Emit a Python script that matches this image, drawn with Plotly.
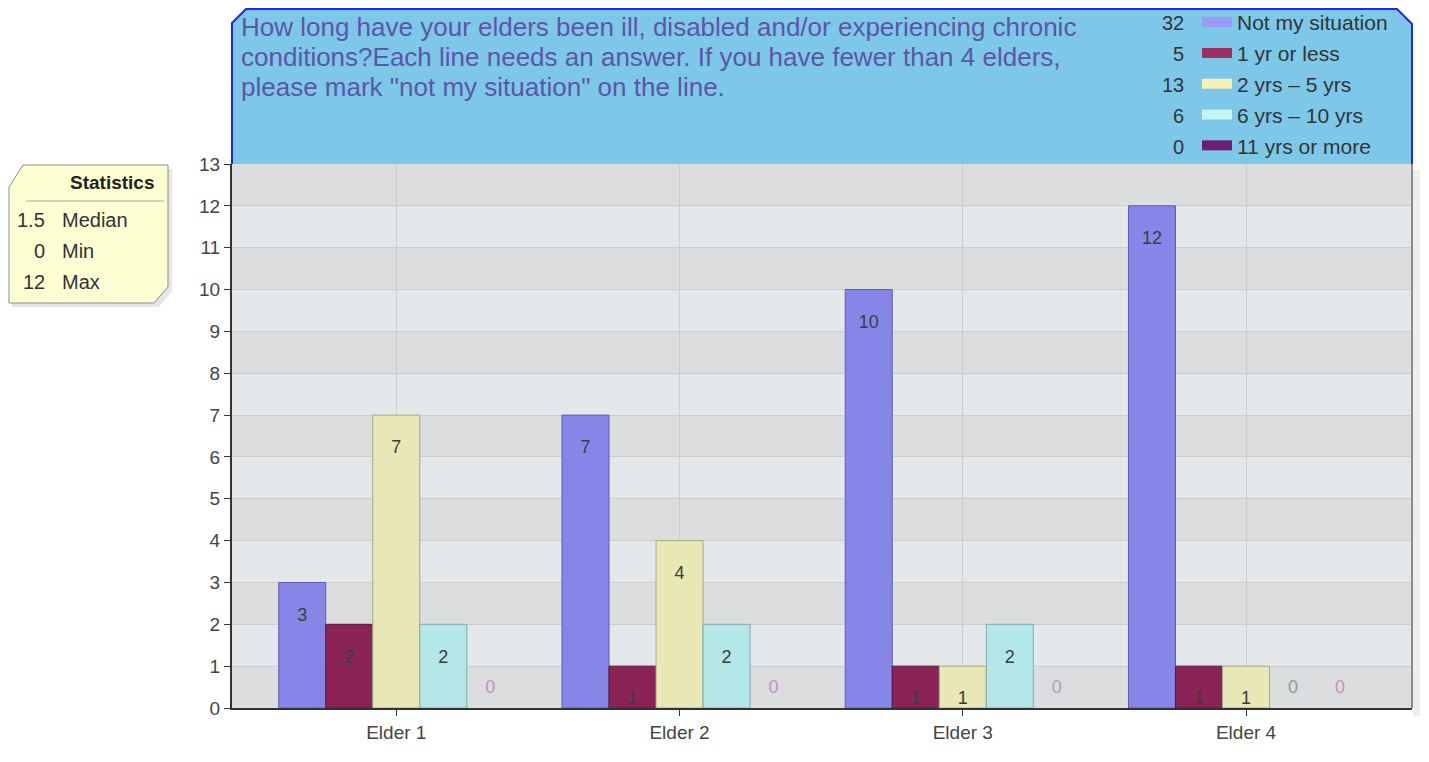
import plotly.graph_objects as go
import numpy as np

categories = ["Elder 1", "Elder 2", "Elder 3", "Elder 4"]
series_names = ["Not my situation", "1 yr or less", "2 yrs \u2013 5 yrs", "6 yrs \u2013 10 yrs", "11 yrs or more"]
not_my_situation = [3, 7, 10, 12]
one_yr_or_less = [2, 1, 1, 1]
two_to_five = [7, 4, 1, 1]
six_to_ten = [2, 2, 2, 0]
eleven_plus = [0, 0, 0, 0]
series_values = [not_my_situation, one_yr_or_less, two_to_five, six_to_ten, eleven_plus]
y_ticks = list(range(0, 14))

title_lines = [
    "How long have your elders been ill, disabled and/or experiencing chronic",
    "conditions?Each line needs an answer. If you have fewer than 4 elders,",
    "please mark \"not my situation\" on the line.",
]

bar_colors = ["#8686e8", "#8a2456", "#e8e8b6", "#b4e8e8", "#6a1a6a"]
bar_lines = ["#5e5eb0", "#5a1638", "#a8a884", "#80aaaa", "#4a104a"]
legend_colors = ["#9a9af4", "#9a3060", "#f4f0b8", "#c4f4f4", "#701c70"]
zero_colors = ["#8a8ac8", "#b06080", "#a8a878", "#7fa0a0", "#c490c4"]

# page body has an 8px margin: the figure occupies window x 8..1421, y 8..754
FW, FH = 1413, 746
L, R, T, B = 224, 9, 156, 46
PL, PR, PT, PB = 232, 1412, 164, 708  # plot area in window pixels


def px(x):
    return (x - PL) / (PR - PL)


def py(y):
    return (PB - y) / (PB - PT)


FONT = "Liberation Sans, Arial, sans-serif"

fig = go.Figure()

for i, (name, vals) in enumerate(zip(series_names, series_values)):
    fig.add_trace(go.Bar(
        x=categories, y=vals, name=name, offsetgroup=str(i),
        marker=dict(color=bar_colors[i],
                    line=dict(color=bar_lines[i], width=[1 if v > 0 else 0 for v in vals])),
        hoverinfo="skip", showlegend=False,
    ))

for i, (name, vals) in enumerate(zip(series_names, series_values)):
    fig.add_trace(go.Scatter(
        x=categories, y=vals, offsetgroup=str(i), mode="markers+text",
        text=[str(v) for v in vals],
        textposition=["bottom center" if v > 0 else "top center" for v in vals],
        textfont=dict(family=FONT, size=18,
                      color=["#3c3c3c" if v > 0 else zero_colors[i] for v in vals]),
        marker=dict(size=[38 if v > 0 else 16 for v in vals], opacity=0),
        showlegend=False, hoverinfo="skip", cliponaxis=False,
    ))

# legend entries (capsule-like thick line symbols)
for i, name in enumerate(series_names):
    fig.add_trace(go.Scatter(
        x=[None], y=[None], mode="lines", name=name, legendgroup=str(i),
        line=dict(color=legend_colors[i], width=10), showlegend=True, hoverinfo="skip",
    ))

shapes = []
# plot shadow
shapes.append(dict(type="rect", xref="paper", yref="paper", x0=px(1413), x1=px(1420), y0=py(716), y1=py(170),
                   fillcolor="#eeeeee", line=dict(width=0), layer="below"))
# alternating bands
for k in y_ticks[:-1]:
    if k % 2 == 0:
        shapes.append(dict(type="rect", xref="paper", yref="y", x0=0, x1=1, y0=k, y1=k + 1,
                           fillcolor="#dcdddf", line=dict(width=0), layer="below"))
# right border of plot
shapes.append(dict(type="line", xref="paper", yref="paper", x0=1, x1=1, y0=0, y1=1,
                   line=dict(color="#8c8c8c", width=2)))
# title box
pts = [(232, 164), (232, 23), (246, 9), (1397, 9), (1412, 24), (1412, 164)]
box_path = "M " + " L ".join(f"{px(x)},{py(y)}" for x, y in pts)
shapes.append(dict(type="path", xref="paper", yref="paper", path=box_path + " Z",
                   fillcolor="#7dc8e9", line=dict(width=0)))
shapes.append(dict(type="path", xref="paper", yref="paper", path=box_path,
                   fillcolor="rgba(0,0,0,0)", line=dict(color="#2424f0", width=2)))
# statistics box shadow + box
sh = [(12, 191), (27, 169), (172, 169), (172, 291), (159, 307), (12, 307)]
shapes.append(dict(type="path", xref="paper", yref="paper",
                   path="M " + " L ".join(f"{px(x)},{py(y)}" for x, y in sh) + " Z",
                   fillcolor="#e6e6e6", line=dict(width=0)))
sb = [(9, 187), (23, 165), (168, 165), (168, 287), (154, 303), (9, 303)]
shapes.append(dict(type="path", xref="paper", yref="paper",
                   path="M " + " L ".join(f"{px(x)},{py(y)}" for x, y in sb) + " Z",
                   fillcolor="#ffffd4", line=dict(color="#8c8c8c", width=1)))
shapes.append(dict(type="line", xref="paper", yref="paper", x0=px(26), x1=px(164), y0=py(201), y1=py(201),
                   line=dict(color="#a8a890", width=1)))

annotations = []
for j, line in enumerate(title_lines):
    annotations.append(dict(xref="paper", yref="paper", x=px(239), y=py(27 + 30 * j), xanchor="left",
                            yanchor="middle", text=line, showarrow=False,
                            font=dict(family=FONT, size=26, color="#5b56a8")))

totals = [int(np.sum(v)) for v in series_values]
for i, tot in enumerate(totals):
    annotations.append(dict(xref="paper", yref="paper", x=px(1186), y=py(23 + 31 * i), xanchor="right",
                            yanchor="middle", text=str(tot), showarrow=False,
                            font=dict(family=FONT, size=20, color="#333333")))

all_vals = np.array(series_values).flatten()
stats = [("%g" % np.median(all_vals), "Median"), ("%g" % np.min(all_vals), "Min"), ("%g" % np.max(all_vals), "Max")]
annotations.append(dict(xref="paper", yref="paper", x=px(156), y=py(182), xanchor="right", yanchor="middle",
                        text="<b>Statistics</b>", showarrow=False,
                        font=dict(family=FONT, size=19, color="#222222")))
for j, (v, lab) in enumerate(stats):
    annotations.append(dict(xref="paper", yref="paper", x=px(47), y=py(220 + 31 * j), xanchor="right",
                            yanchor="middle", text=v, showarrow=False,
                            font=dict(family=FONT, size=20, color="#333333")))
    annotations.append(dict(xref="paper", yref="paper", x=px(60), y=py(220 + 31 * j), xanchor="left",
                            yanchor="middle", text=lab, showarrow=False,
                            font=dict(family=FONT, size=20, color="#333333")))

fig.update_layout(
    width=FW, height=FH,
    margin=dict(l=L, r=R, t=T, b=B, autoexpand=False),
    paper_bgcolor="#ffffff", plot_bgcolor="#e4e8eb",
    barmode="group", bargap=0.17, bargroupgap=0,
    scattermode="group", scattergap=0.17,
    font=dict(family=FONT, size=19, color="#333333"),
    shapes=shapes, annotations=annotations,
    legend=dict(x=px(1197), y=py(2), xanchor="left", yanchor="top", bgcolor="rgba(0,0,0,0)",
                font=dict(family=FONT, size=21, color="#333333"), tracegroupgap=0.5,
                traceorder="grouped", itemclick=False, itemdoubleclick=False),
    showlegend=True,
    xaxis=dict(type="category", range=[-0.58, 3.586], showgrid=True, gridcolor="#cdcdcd", gridwidth=1,
               showline=True, linecolor="#333333", linewidth=2, ticks="outside", ticklen=6,
               tickcolor="#333333", tickfont=dict(family=FONT, size=19, color="#444444"), fixedrange=True),
    yaxis=dict(range=[0, 13], tickvals=y_ticks, showgrid=True, gridcolor="#cdcdcd", gridwidth=1,
               showline=True, linecolor="#333333", linewidth=2, ticks="outside", ticklen=6,
               tickcolor="#333333", tickfont=dict(family=FONT, size=19, color="#444444"),
               zeroline=False, fixedrange=True),
)

fig.write_html("out.html")
